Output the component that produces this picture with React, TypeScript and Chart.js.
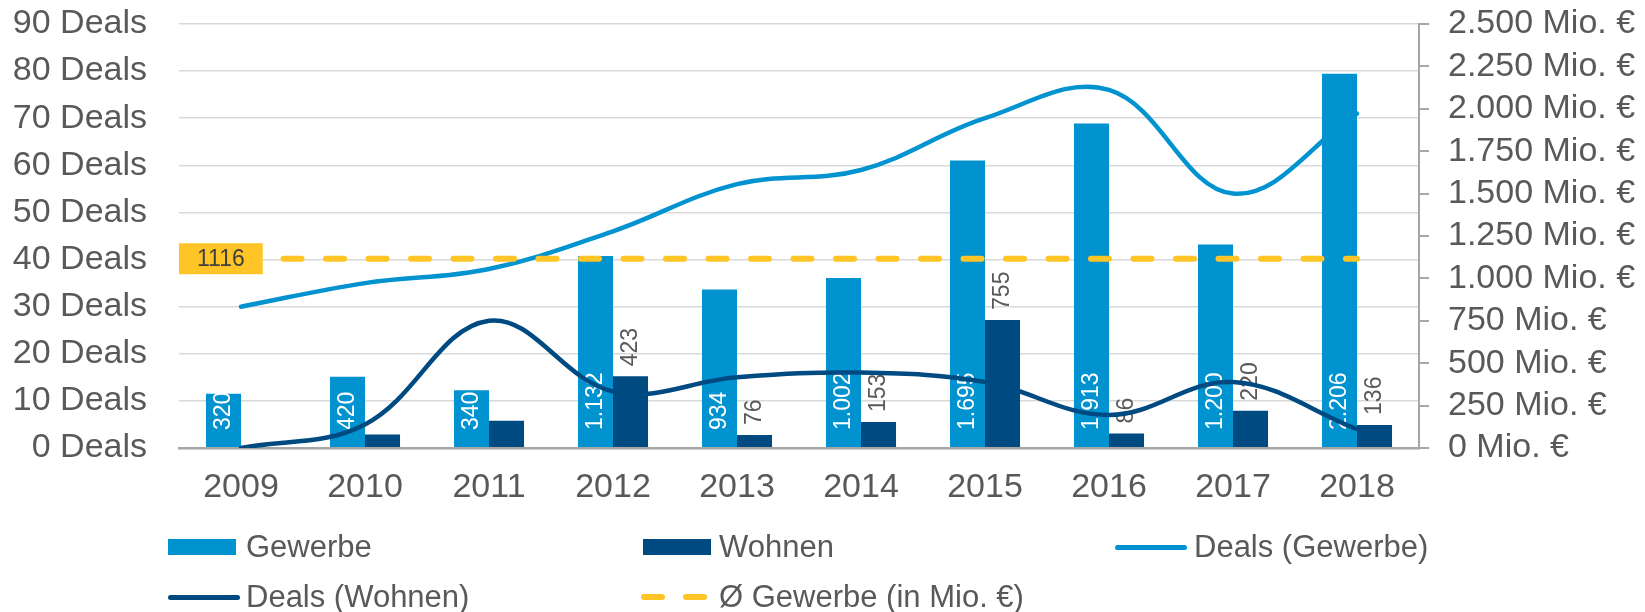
import React, { useEffect, useRef } from "react";
import { Chart, registerables } from "chart.js";

Chart.register(...registerables);

// ---------- data ----------
const years = ["2009", "2010", "2011", "2012", "2013", "2014", "2015", "2016", "2017", "2018"];
const gewerbeVolume = [320, 420, 340, 1132, 934, 1002, 1695, 1913, 1200, 2206];
const wohnenVolume = [null, 80, 160, 423, 76, 153, 755, 86, 220, 136];
const wohnenLabelShown = [false, false, false, true, true, true, true, true, true, true];
const dealsGewerbe = [30, 35, 38, 46, 56, 59, 70, 76, 54, 71];
const dealsWohnen = [0, 5, 27, 12, 15, 16, 14, 7, 14, 4];
const avgGewerbe = 1116;
const dealsAxis = { min: 0, max: 90, step: 10, unit: "Deals" };
const volumeAxis = { min: 0, max: 2500, step: 250, unit: "Mio. €" };

// ---------- styles ----------
const FONT = "'Liberation Sans', Arial, Helvetica, sans-serif";
const C_GEW = "#0093D0";
const C_WOH = "#004A82";
const C_AVG = "#FFC425";
const C_TEXT = "#595959";
const C_GRID = "#D9D9D9";
const C_AXIS = "#A6A6A6";

const de = (n: number) => String(n).replace(/\B(?=(\d{3})+(?!\d))/g, ".");

const labelPlugin = {
  id: "customLabels",
  afterDatasetDraw(chart: any, args: any) {
    const ds = chart.data.datasets[args.index];
    const kind = ds.labelKind;
    if (!kind) return;
    const ctx = chart.ctx;
    ctx.save();
    ctx.font = `23px ${FONT}`;
    ctx.textBaseline = "middle";
    ctx.textAlign = "left";
    args.meta.data.forEach((el: any, i: number) => {
      const v = ds.data[i];
      if (v == null) return;
      const p = el.getProps(["x", "y", "base"], true);
      if (kind === "inside") {
        ctx.save();
        ctx.fillStyle = "#FFFFFF";
        ctx.translate(p.x, p.base - 17);
        ctx.rotate(-Math.PI / 2);
        ctx.fillText(de(v), 0, 0);
        ctx.restore();
      } else if (kind === "outside" && wohnenLabelShown[i]) {
        ctx.save();
        ctx.fillStyle = C_TEXT;
        ctx.translate(p.x, p.y - 10);
        ctx.rotate(-Math.PI / 2);
        ctx.fillText(de(v), 0, 0);
        ctx.restore();
      }
    });
    ctx.restore();
  },
  afterDatasetsDraw(chart: any) {
    const idx = chart.data.datasets.findIndex((d: any) => d.avgLabel);
    if (idx < 0) return;
    const meta = chart.getDatasetMeta(idx);
    const pt = meta.data[0];
    if (!pt) return;
    const ctx = chart.ctx;
    const text = String(chart.data.datasets[idx].data[0]);
    ctx.save();
    ctx.font = `23px ${FONT}`;
    const tw = ctx.measureText(text).width;
    const w = tw + 36;
    const h = 31;
    const x0 = chart.chartArea.left;
    const y0 = pt.y - h / 2;
    ctx.fillStyle = C_AVG;
    ctx.fillRect(x0, y0, w, h);
    ctx.fillStyle = "#404040";
    ctx.textAlign = "center";
    ctx.textBaseline = "middle";
    ctx.fillText(text, x0 + w / 2, pt.y + 1);
    ctx.restore();
  },
};

type LegendItem = { label: string; kind: "box" | "line" | "dash"; color: string; col: number; row: number };
const legendItems: LegendItem[] = [
  { label: "Gewerbe", kind: "box", color: C_GEW, col: 0, row: 0 },
  { label: "Wohnen", kind: "box", color: C_WOH, col: 1, row: 0 },
  { label: "Deals (Gewerbe)", kind: "line", color: C_GEW, col: 2, row: 0 },
  { label: "Deals (Wohnen)", kind: "line", color: C_WOH, col: 0, row: 1 },
  { label: "Ø Gewerbe (in Mio. €)", kind: "dash", color: C_AVG, col: 1, row: 1 },
];
const legendColX = [168, 643, 1115];
const legendRowY = [547, 597];

function LegendIcon({ item, x, y }: { item: LegendItem; x: number; y: number }) {
  if (item.kind === "box") {
    return <div style={{ position: "absolute", left: x, top: y - 8, width: 68, height: 16, background: item.color }} />;
  }
  if (item.kind === "line") {
    return (
      <div style={{ position: "absolute", left: x, top: y - 2.5, width: 72, height: 5, borderRadius: 3, background: item.color }} />
    );
  }
  return (
    <>
      <div style={{ position: "absolute", left: x - 2, top: y - 3, width: 24, height: 6, borderRadius: 3, background: item.color }} />
      <div style={{ position: "absolute", left: x + 40, top: y - 3, width: 24, height: 6, borderRadius: 3, background: item.color }} />
    </>
  );
}

export default function App() {
  const canvasRef = useRef<HTMLCanvasElement | null>(null);

  useEffect(() => {
    if (!canvasRef.current) return;
    const chart = new Chart(canvasRef.current, {
      type: "bar",
      data: {
        labels: years,
        datasets: [
          {
            type: "line",
            label: "Deals (Gewerbe)",
            data: dealsGewerbe,
            yAxisID: "y",
            borderColor: C_GEW,
            backgroundColor: C_GEW,
            borderWidth: 4.5,
            pointRadius: 0,
            tension: 0.38,
            borderCapStyle: "round",
            order: 5,
          },
          {
            type: "bar",
            label: "Gewerbe",
            data: gewerbeVolume,
            yAxisID: "y1",
            backgroundColor: C_GEW,
            categoryPercentage: 0.565,
            barPercentage: 1,
            order: 4,
            labelKind: "inside",
          } as any,
          {
            type: "bar",
            label: "Wohnen",
            data: wohnenVolume,
            yAxisID: "y1",
            backgroundColor: C_WOH,
            categoryPercentage: 0.565,
            barPercentage: 1,
            order: 4,
            labelKind: "outside",
          } as any,
          {
            type: "line",
            label: "Deals (Wohnen)",
            data: dealsWohnen,
            yAxisID: "y",
            borderColor: C_WOH,
            backgroundColor: C_WOH,
            borderWidth: 4.5,
            pointRadius: 0,
            tension: 0.38,
            borderCapStyle: "round",
            order: 2,
          },
          {
            type: "line",
            label: "Ø Gewerbe (in Mio. €)",
            data: years.map(() => avgGewerbe),
            yAxisID: "y1",
            borderColor: C_AVG,
            borderWidth: 6,
            borderDash: [18, 24.5],
            borderCapStyle: "round",
            pointRadius: 0,
            tension: 0,
            order: 1,
            avgLabel: true,
          } as any,
        ],
      },
      options: {
        animation: false,
        responsive: false,
        devicePixelRatio: 1,
        layout: { padding: { top: 24, left: 0, right: 0, bottom: 0 } },
        plugins: {
          legend: { display: false },
          tooltip: { enabled: false },
        },
        scales: {
          x: {
            grid: { display: false, drawTicks: false },
            border: { display: true, color: C_AXIS, width: 2.5 },
            ticks: { color: C_TEXT, font: { family: FONT, size: 34 }, padding: 19, maxRotation: 0 },
            afterFit: (s: any) => {
              s.height = 164;
            },
          },
          y: {
            position: "left",
            min: dealsAxis.min,
            max: dealsAxis.max,
            grid: { color: C_GRID, lineWidth: 1.5, drawTicks: false },
            border: { display: false },
            ticks: {
              stepSize: dealsAxis.step,
              autoSkip: false,
              color: C_TEXT,
              font: { family: FONT, size: 34 },
              padding: 32,
              callback: (v: any) => `${v} ${dealsAxis.unit}`,
            },
            afterFit: (s: any) => {
              s.width = 179;
              s.paddingTop = 0;
              s.paddingBottom = 0;
            },
          },
          y1: {
            position: "right",
            min: volumeAxis.min,
            max: volumeAxis.max,
            grid: { drawOnChartArea: false, drawTicks: true, tickLength: 10, color: C_AXIS, lineWidth: 2 },
            border: { display: true, color: C_AXIS, width: 2 },
            ticks: {
              stepSize: volumeAxis.step,
              autoSkip: false,
              color: C_TEXT,
              font: { family: FONT, size: 34 },
              padding: 19,
              callback: (v: any) => `${de(Number(v))} ${volumeAxis.unit}`,
            },
            afterFit: (s: any) => {
              s.width = 226;
              s.paddingTop = 0;
              s.paddingBottom = 0;
            },
          },
        },
      } as any,
      plugins: [labelPlugin as any],
    });
    return () => chart.destroy();
  }, []);

  return (
    <div
      style={{
        position: "absolute",
        left: 0,
        top: 0,
        width: 1645,
        height: 612,
        background: "#FFFFFF",
        overflow: "hidden",
        fontFamily: FONT,
      }}
    >
      <canvas ref={canvasRef} width={1645} height={612} style={{ position: "absolute", left: 0, top: 0, display: "block" }} />
      {legendItems.map((item) => {
        const x = legendColX[item.col];
        const y = legendRowY[item.row];
        const tx = x + (item.col === 0 ? 78 : item.col === 1 ? 76 : 79);
        return (
          <React.Fragment key={item.label}>
            <LegendIcon item={item} x={x} y={y} />
            <span
              style={{
                position: "absolute",
                left: tx,
                top: y - 18,
                fontSize: 31,
                lineHeight: "36px",
                color: C_TEXT,
                whiteSpace: "nowrap",
              }}
            >
              {item.label}
            </span>
          </React.Fragment>
        );
      })}
    </div>
  );
}
